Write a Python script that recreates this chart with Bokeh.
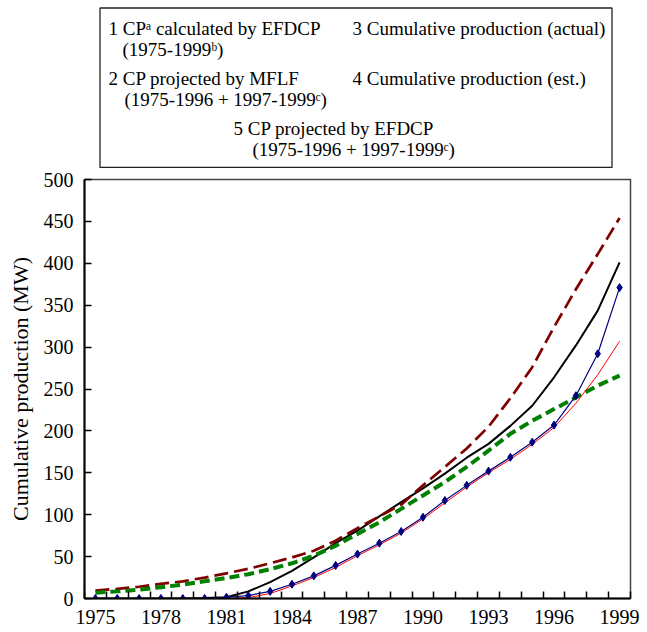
from bokeh.plotting import figure
from bokeh.layouts import column
from bokeh.models import Range1d, FixedTicker
from bokeh.core.properties import value
from bokeh.embed import file_html
from bokeh.resources import INLINE

years = list(range(1975, 2000))
cp_actual_est = [0, 0, 0, 0, 0, 0, 1.5, 3.5, 8.5, 17, 27, 39.5, 53, 66, 80, 97,
                 117, 135, 152, 168.5, 186.5, 207, 242, 292, 371]
cp_calc_efdcp = [0, 0, 0, 0, 0, 0, 0, 1, 6, 15, 25, 37, 51, 64, 78, 95,
                 114, 133, 150, 166, 184, 204, 233, 267, 307]
cp_black = [0, 0, 0, 0, 0, 0.5, 1.5, 8.5, 19.5, 33, 49, 66, 81, 98, 115, 131.5,
            149, 168, 184.5, 206, 230, 264, 302, 343.5, 401]
cp_proj_efdcp = [9.5, 11.5, 14, 17.5, 20.5, 25, 30, 35.5, 42, 49, 57, 69, 84, 98, 112, 135,
                 157, 179, 205, 239, 276, 324, 369, 411, 454]
cp_proj_mflf = [7, 8.5, 10.5, 13.5, 16.5, 20.5, 24.5, 29, 35, 42, 51, 63, 77, 91, 107, 123,
                139, 157, 176.5, 196.5, 212, 226, 240, 254, 266]
y_ticks = [0, 50, 100, 150, 200, 250, 300, 350, 400, 450, 500]
x_label_years = [1975, 1978, 1981, 1984, 1987, 1990, 1993, 1996, 1999]

legend_lines = [
    ("1 CP\u1d43 calculated by EFDCP", 108, 28),
    ("(1975-1999\u1d47)", 122, 49),
    ("3 Cumulative production (actual)", 352, 28),
    ("2 CP projected by MFLF", 108, 78),
    ("(1975-1996 + 1997-1999\u1d9c)", 124, 99),
    ("4 Cumulative production (est.)", 352, 78),
    ("5 CP projected by EFDCP", 233, 128),
    ("(1975-1996 + 1997-1999\u1d9c)", 252, 149),
]

FONT = "Liberation Serif"
W = 647
LEFT, RIGHT = 84, 17
TOP_H = 168

# ---- legend box figure (data units = page pixels) ----
top = figure(width=W, height=TOP_H, x_range=Range1d(LEFT, W - RIGHT), y_range=Range1d(TOP_H, 0),
             output_backend="svg", toolbar_location=None,
             min_border_left=LEFT, min_border_right=RIGHT, min_border_top=0, min_border_bottom=0)
top.axis.visible = False
top.grid.visible = False
top.outline_line_color = None
top.quad(left=[99.5], right=[611.5], top=[7.5], bottom=[167.0], fill_color=None,
         line_color="#222222", line_width=1.3)
top.text(x=[l[1] for l in legend_lines], y=[l[2] for l in legend_lines],
         text=[l[0] for l in legend_lines], text_font=value(FONT), text_font_size="19px",
         text_baseline="alphabetic", text_align="left", text_color="black")

# ---- chart figure ----
BOT_H = 632 - TOP_H
p = figure(width=W, height=BOT_H, x_range=Range1d(1974.5, 1999.5), y_range=Range1d(0, 500),
           output_backend="svg", toolbar_location=None,
           min_border_left=LEFT, min_border_right=RIGHT, min_border_top=11, min_border_bottom=34)
p.grid.visible = False
p.outline_line_color = "#444444"
p.outline_line_width = 1.5

p.xaxis.ticker = FixedTicker(ticks=x_label_years, minor_ticks=[y - 0.5 for y in years] + [1999.5])
p.yaxis.ticker = FixedTicker(ticks=y_ticks, minor_ticks=[])
for ax in (p.xaxis, p.yaxis):
    ax.axis_line_width = 2
    ax.axis_line_color = "black"
    ax.major_label_text_font = FONT
    ax.major_label_text_font_size = "20px"
    ax.major_label_text_color = "black"
p.xaxis.major_tick_in = 0
p.xaxis.major_tick_out = 0
p.xaxis.minor_tick_in = 7
p.xaxis.minor_tick_out = 0
p.xaxis.minor_tick_line_color = "black"
p.xaxis.minor_tick_line_width = 1.5
p.xaxis.major_label_standoff = 11
p.yaxis.major_tick_in = 7
p.yaxis.major_tick_out = 0
p.yaxis.major_tick_line_width = 1.5
p.yaxis.major_tick_line_color = "black"
p.yaxis.major_label_standoff = 11
p.yaxis.axis_label = "Cumulative production (MW)"
p.yaxis.axis_label_text_font = FONT
p.yaxis.axis_label_text_font_size = "22px"
p.yaxis.axis_label_text_font_style = "normal"
p.yaxis.axis_label_text_color = "black"
p.yaxis.axis_label_standoff = 8

p.line(years, cp_black, line_color="black", line_width=2)
p.line(years, cp_proj_efdcp, line_color="#800000", line_width=2.7, line_dash="14 6")
p.line(years, cp_proj_mflf, line_color="#008000", line_width=4, line_dash="10 5")
p.line(years, cp_calc_efdcp, line_color="#ff0000", line_width=1)
p.line(years, cp_actual_est, line_color="#000080", line_width=1.2)
p.scatter(years, cp_actual_est, marker="diamond", size=8, fill_color="#000080",
          line_color="#000080")

layout = column(top, p, spacing=0)
open("out.html", "w").write(file_html(layout, INLINE))
